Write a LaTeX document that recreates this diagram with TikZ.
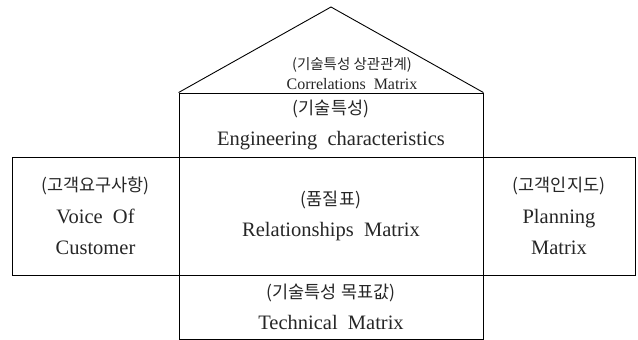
\documentclass[tikz,border=0pt]{standalone}
\usepackage{fontspec}
\setmainfont{Liberation Serif}
\newfontfamily\kor{Noto Sans CJK KR}
\begin{document}
\begin{tikzpicture}[x=1pt,y=-1pt,
  cell/.style={draw=black, line width=0.9pt, inner sep=0pt, align=center,
    font=\fontsize{20.5}{31.5}\selectfont, text=black!85},
  rooftext/.style={inner sep=0pt, align=center, font=\fontsize{16}{20.5}\selectfont, text=black!85},
  roofline/.style={draw=black, line width=0.9pt, line join=miter}]
\useasboundingbox (0,0) rectangle (638,340);
\node[cell, minimum width=304pt, minimum height=64pt] (eng) at (331,125)
  {{\kor\fontsize{17.5}{31.5}\selectfont (기술특성)}\\Engineering\ \ characteristics};
\node[cell, minimum width=304pt, minimum height=118pt] (rel) at (331,216)
  {{\kor\fontsize{17.5}{31.5}\selectfont (품질표)}\\Relationships\ \ Matrix};
\node[cell, minimum width=304pt, minimum height=64pt] (tech) at (331,307)
  {{\kor\fontsize{17.5}{31.5}\selectfont (기술특성 목표값)}\\Technical\ \ Matrix};
\node[cell, minimum width=167pt, minimum height=118pt] (voc) at (95.5,216)
  {{\kor\fontsize{17.5}{31}\selectfont (고객요구사항)}\\Voice\ \ Of\\Customer};
\node[cell, minimum width=152pt, minimum height=118pt] (plan) at (559,216)
  {{\kor\fontsize{17.5}{31}\selectfont (고객인지도)}\\Planning\\Matrix};
\coordinate (apex) at (331,7);
\draw[roofline] (eng.north west) -- (apex) -- (eng.north east);
\node[rooftext] (corr) at (352,73.5)
  {{\kor\fontsize{14.5}{20.5}\selectfont (기술특성 상관관계)}\\Correlations\ \ Matrix};
\end{tikzpicture}
\end{document}
